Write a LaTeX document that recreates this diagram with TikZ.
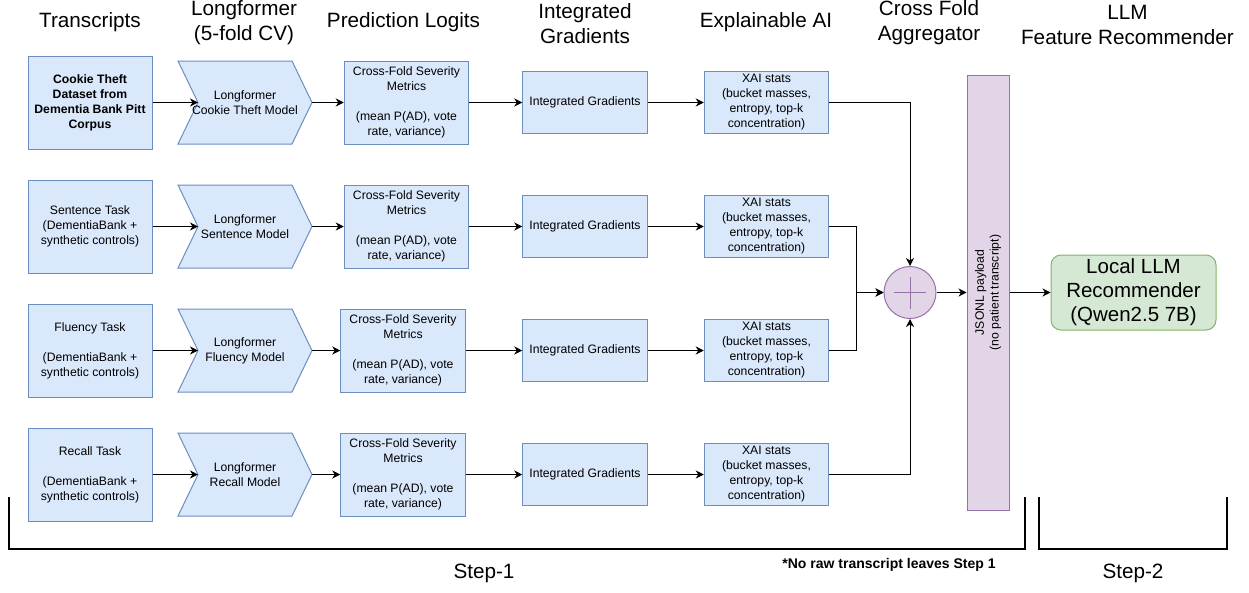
\documentclass[tikz,border=0pt]{standalone}
\usepackage{fontspec}
\setmainfont{Liberation Sans}
\usetikzlibrary{arrows.meta,backgrounds}
\newcommand\fsz[2]{\fontsize{#1}{#2}\selectfont}
\definecolor{bfill}{HTML}{DAE8FC}
\definecolor{bline}{HTML}{6C8EBF}
\definecolor{pfill}{HTML}{E1D5E7}
\definecolor{pline}{HTML}{9673A6}
\definecolor{gfill}{HTML}{D5E8D4}
\definecolor{gline}{HTML}{82B366}
\begin{document}
\begin{tikzpicture}[x=1pt,y=-1pt,
  header/.style={font=\fsz{20.7}{25}, align=center, inner sep=0pt},
  box/.style={draw=bline, fill=bfill, line width=1pt, inner sep=0pt,
    align=center, font=\fsz{12.2}{15}},
  srcbox/.style={box, minimum width=124, minimum height=93},
  predbox/.style={box, minimum width=124.5, minimum height=83},
  igbox/.style={box, minimum width=124.5, minimum height=62},
  chevtext/.style={inner sep=0pt, outer sep=0pt, minimum width=134,
    minimum height=83, align=center, font=\fsz{12.2}{15}},
  chevline/.style={draw=bline, fill=bfill, line width=1pt, line join=miter},
  sumnode/.style={circle, draw=pline, fill=pfill, line width=1pt,
    minimum size=52, inner sep=0pt,
    path picture={
      \draw[pline, line width=0.8pt]
        ([xshift=-16pt]path picture bounding box.center) --
        ([xshift=16pt]path picture bounding box.center)
        ([yshift=-16pt]path picture bounding box.center) --
        ([yshift=16pt]path picture bounding box.center);}},
  barnode/.style={draw=pline, fill=pfill, line width=1pt, inner sep=0pt,
    minimum width=42, minimum height=435},
  llmnode/.style={draw=gline, fill=gfill, line width=1pt, rounded corners=10pt,
    minimum width=165, minimum height=75, inner sep=0pt, align=center,
    font=\fsz{20.5}{24}},
  arr/.style={-{Stealth[length=8pt,width=8pt,inset=2.5pt]}, line width=1pt, black},
  bracket/.style={line width=2pt, black}
]
\useasboundingbox (0,0) rectangle (1249,592);

% column headings
\node[header] (h1) at (90,21.7) {Transcripts};
\node[header] (h2) at (244,22.3) {Longformer\\(5-fold CV)};
\node[header] (h3) at (403.5,21.7) {Prediction Logits};
\node[header] (h4) at (585,23.3) {Integrated\\Gradients};
\node[header] (h5) at (766,21.7) {Explainable AI};
\node[header] (h6) at (929,22.3) {Cross Fold\\Aggregator};
\node[header] (h7) at (1127.5,25.3) {LLM\\Feature Recommender};

% transcript sources
\node[srcbox, font=\fsz{12.2}{15}\bfseries] (t1) at (90,102.5)
  {Cookie Theft\\Dataset from\\Dementia Bank Pitt\\Corpus};
\node[srcbox] (t2) at (90,226.5)
  {Sentence Task\\(DementiaBank +\\synthetic controls)};
\node[srcbox] (t3) at (90,350.5)
  {Fluency Task\\[15pt](DementiaBank +\\synthetic controls)};
\node[srcbox] (t4) at (90,474.5)
  {Recall Task\\[15pt](DementiaBank +\\synthetic controls)};

% Longformer models (chevron outlines are drawn behind the text below)
\node[chevtext] (c1) at (245,102.5) {Longformer\\Cookie Theft Model};
\node[chevtext] (c2) at (245,226.5) {Longformer\\Sentence Model};
\node[chevtext] (c3) at (245,350.5) {Longformer\\Fluency Model};
\node[chevtext] (c4) at (245,474.5) {Longformer\\Recall Model};
\begin{scope}[on background layer]
  \foreach \c in {c1,c2,c3,c4}
    \path[chevline] (\c.north west) -- ([xshift=-20pt]\c.north east)
      -- (\c.east) -- ([xshift=-20pt]\c.south east) -- (\c.south west)
      -- ([xshift=20pt]\c.west) -- cycle;
\end{scope}

% cross-fold severity metrics
\node[predbox] (p1) at (406.5,102.5)
  {Cross-Fold Severity\\Metrics\\[15pt](mean P(AD), vote\\rate, variance)};
\node[predbox] (p2) at (406.5,226.5)
  {Cross-Fold Severity\\Metrics\\[15pt](mean P(AD), vote\\rate, variance)};
\node[predbox] (p3) at (403,350.5)
  {Cross-Fold Severity\\Metrics\\[15pt](mean P(AD), vote\\rate, variance)};
\node[predbox] (p4) at (403,474.5)
  {Cross-Fold Severity\\Metrics\\[15pt](mean P(AD), vote\\rate, variance)};

% integrated gradients
\node[igbox] (g1) at (585,102.5) {Integrated Gradients};
\node[igbox] (g2) at (585,226.5) {Integrated Gradients};
\node[igbox] (g3) at (585,350.5) {Integrated Gradients};
\node[igbox] (g4) at (585,474.5) {Integrated Gradients};

% explainability statistics
\node[igbox] (x1) at (766.5,102.5) {XAI stats\\(bucket masses,\\entropy, top-k\\concentration)};
\node[igbox] (x2) at (766.5,226.5) {XAI stats\\(bucket masses,\\entropy, top-k\\concentration)};
\node[igbox] (x3) at (766.5,350.5) {XAI stats\\(bucket masses,\\entropy, top-k\\concentration)};
\node[igbox] (x4) at (766.5,474.5) {XAI stats\\(bucket masses,\\entropy, top-k\\concentration)};

% aggregation, payload and recommender
\node[sumnode] (sum) at (910,292.5) {};
\node[barnode] (bar) at (988,292.5) {};
\node[rotate=90, align=center, inner sep=0pt, font=\fsz{12.2}{14.7}] (barlabel)
  at (bar.center) {JSONL payload\\(no patient transcript)};
\node[llmnode] (llm) at (1133.5,292.5) {Local LLM\\Recommender\\(Qwen2.5 7B)};

% row pipelines
\foreach \i in {1,2,3,4} {
  \draw[arr] (t\i.east) -- ([xshift=20pt]c\i.west);
  \draw[arr] (c\i.east) -- (p\i.west);
  \draw[arr] (p\i.east) -- (g\i.west);
  \draw[arr] (g\i.east) -- (x\i.west);
}

% fold outputs into the aggregator
\draw[arr] (x1.east) -| (sum.north);
\draw[arr] (x4.east) -| (sum.south);
\draw[arr] (x2.east) -- ++(27.5,0) |- (sum.west);
\draw[arr] (x3.east) -- ++(27.5,0) |- (sum.west);
\draw[arr] (sum.east) -- (bar.west);
\draw[arr] (bar.east) -- (llm.west);

% step brackets and captions
\draw[bracket] (9.3,497) -- (9.3,549) -- (1024.7,549) -- (1024.7,497);
\draw[bracket] (1039,497) -- (1039,549) -- (1226.7,549) -- (1226.7,497);
\node[header] (s1) at (484,573) {Step-1};
\node[header] (s2) at (1133,573) {Step-2};
\node[inner sep=0pt, font=\fsz{14}{16}\bfseries] (note) at (889,565)
  {*No raw transcript leaves Step 1};
\end{tikzpicture}
\end{document}
